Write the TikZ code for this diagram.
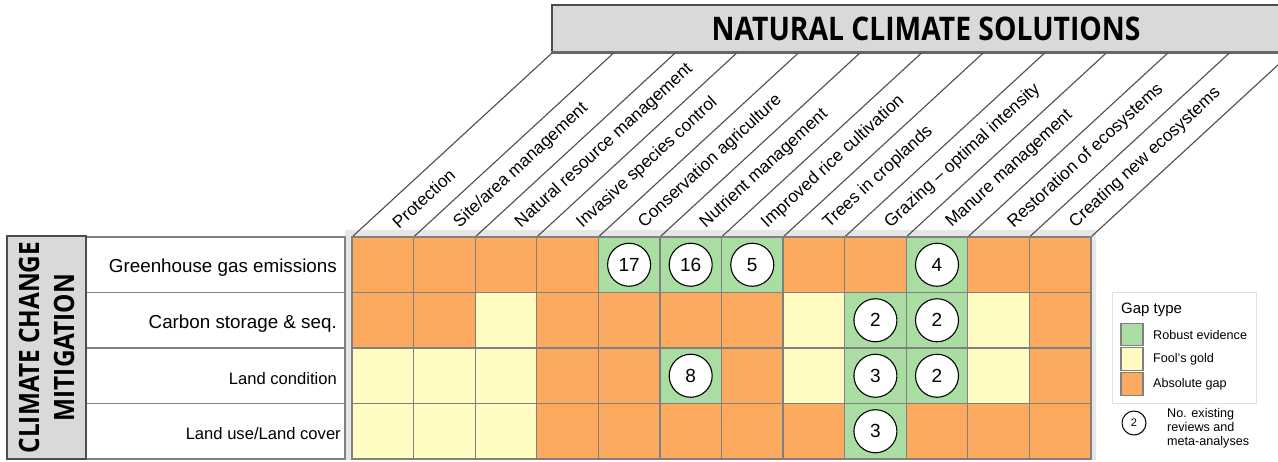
\documentclass[tikz,border=0pt]{standalone}
\usepackage{fontspec}
\setmainfont{Liberation Sans}
\newfontfamily\condfont[FakeStretch=0.87]{Open Sans}
\definecolor{gapG}{HTML}{A9DDA1}
\definecolor{gapY}{HTML}{FFFBC1}
\definecolor{gapO}{HTML}{FBAA5F}
\definecolor{panelgray}{HTML}{D9D9D9}
\definecolor{edgegray}{HTML}{808080}
\definecolor{framegray}{HTML}{E6E6E6}
\definecolor{darkline}{HTML}{4D4D4D}

\tikzset{
  cell/.style={draw=edgegray, line width=1.3pt, minimum width=61.58pt, minimum height=55.5pt, inner sep=0pt},
  countmark/.style={circle, draw=black, line width=1.1pt, fill=white, minimum size=43pt, inner sep=0pt, font=\fontsize{19}{19}\selectfont},
  diag/.style={draw=darkline, line width=1.1pt},
  collabel/.style={rotate=42.6, anchor=west, inner sep=0pt, font=\fontsize{17.3}{17.3}\selectfont},
  rowlabel/.style={anchor=east, inner sep=0pt},
  panel/.style={draw=darkline, line width=1.2pt, fill=panelgray},
  swatch/.style={draw=edgegray, line width=1.2pt, minimum width=22pt, minimum height=22.5pt, inner sep=0pt},
  legtext/.style={anchor=west, inner sep=0pt, font=\fontsize{12.6}{14}\selectfont},
}

\begin{document}
\begin{tikzpicture}[x=1pt, y=-1pt]
\useasboundingbox (0,0) rectangle (1278,461);
\clip (0,0) rectangle (1278,461);

% header panel (runs past the right edge)
\node[panel, minimum width=748pt, minimum height=47pt, inner sep=0pt,
      font=\condfont\bfseries\fontsize{32.5}{32.5}\selectfont] (hdr) at (926,28.5) {NATURAL CLIMATE SOLUTIONS};
\draw[line width=2.6pt, draw=edgegray!80!black] (hdr.south west) -- (hdr.south east);

% light frame behind the matrix
\fill[framegray] (345,230) rectangle (1096,460);

% slanted column separators
\foreach \i in {0,...,12}
  \draw[diag] ({352+61.58*\i},237) -- ++(200,-184);

% column headings
\foreach \t [count=\i from 0] in {Protection, Site/area management, Natural resource management,
    Invasive species control, Conservation agriculture, Nutrient management,
    Improved rice cultivation, Trees in croplands, Grazing – optimal intensity,
    Manure management, Restoration of ecosystems, Creating new ecosystems}
  \node[collabel] (h\i) at ({352+61.58*(\i+0.5)+12},{237-12}) {\t};

% matrix cells
\foreach \rowcells [count=\r] in {
    {O,O,O,O,G,G,G,O,O,G,O,O},
    {O,O,Y,O,O,O,O,Y,G,G,Y,O},
    {Y,Y,Y,O,O,G,O,Y,G,G,Y,O},
    {Y,Y,Y,O,O,O,O,O,G,O,O,O}}
  \foreach \k [count=\c] in \rowcells
    \node[cell, fill=gap\k] (c-\r-\c) at ({352+61.58*(\c-0.5)},{237+55.5*(\r-0.5)}) {};

% number of existing reviews
\node[countmark] (n15) at (c-1-5) {17};
\node[countmark] (n16) at (c-1-6) {16};
\node[countmark] (n17) at (c-1-7) {5};
\node[countmark] (n110) at (c-1-10) {4};
\node[countmark] (n29) at (c-2-9) {2};
\node[countmark] (n210) at (c-2-10) {2};
\node[countmark] (n36) at (c-3-6) {8};
\node[countmark] (n39) at (c-3-9) {3};
\node[countmark] (n310) at (c-3-10) {2};
\node[countmark] (n49) at (c-4-9) {3};

% row labels
\draw[edgegray, line width=1.1pt] (86,237) rectangle (345,459);
\foreach \y in {292.5,348,403.5}
  \draw[edgegray, line width=1.1pt] (86,\y) -- (345,\y);
\node[rowlabel, font=\fontsize{18.8}{18.8}\selectfont] (r1) at (337,268) {Greenhouse gas emissions};
\node[rowlabel, font=\fontsize{18.8}{18.8}\selectfont] (r2) at (337,323.5) {Carbon storage \& seq.};
\node[rowlabel, font=\fontsize{16.6}{16.6}\selectfont] (r3) at (337,379) {Land condition};
\node[rowlabel, font=\fontsize{16.6}{16.6}\selectfont] (r4) at (341,434) {Land use/Land cover};

% category panel
\node[panel, rotate=90, minimum width=223pt, minimum height=79pt, inner sep=0pt, align=center,
      font=\condfont\bfseries\fontsize{28}{35}\selectfont] (cat) at (46.5,347.5) {CLIMATE CHANGE\\MITIGATION};

% legend
\node[draw=black!12, fill=white, minimum width=144pt, minimum height=111pt, inner sep=0pt] (leg) at (1184,347.5) {};
\node[anchor=base west, inner sep=0pt, font=\fontsize{15}{15}\selectfont] (legtitle) at (1121,313) {Gap type};
\node[swatch, fill=gapG] (sG) at (1132,334.5) {};
\node[swatch, fill=gapY] (sY) at (1132,359) {};
\node[swatch, fill=gapO] (sO) at (1132,384) {};
\node[legtext] (tG) at (1153,334.5) {Robust evidence};
\node[legtext] (tY) at (1153,359) {Fool's gold};
\node[legtext] (tO) at (1153,384) {Absolute gap};
\node[circle, draw=black, line width=1pt, minimum size=24pt, inner sep=0pt, font=\fontsize{11}{11}\selectfont] (legnum) at (1134,423) {2};
\node[anchor=north west, inner sep=0pt, align=left, font=\fontsize{12.6}{14}\selectfont] (legnote) at (1167,408) {No. existing\\reviews and\\meta-analyses};
\end{tikzpicture}
\end{document}
